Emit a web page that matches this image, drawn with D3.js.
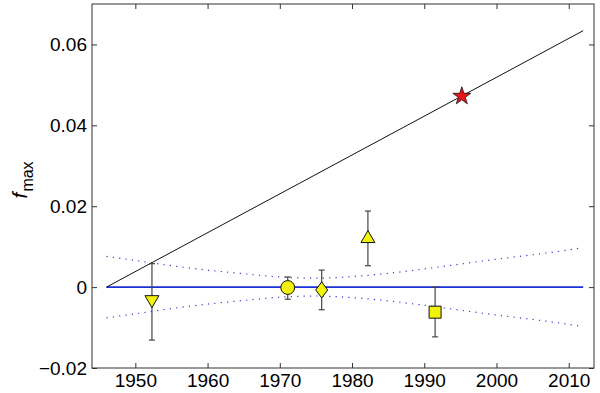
<!DOCTYPE html>
<html>
<head>
<meta charset="utf-8">
<script src="https://cdn.jsdelivr.net/npm/d3@7"></script>
<style>
  body { margin: 0; background: #fff; }
  text { font-family: "Liberation Sans", Arial, sans-serif; }
</style>
</head>
<body>
<div class="chart"></div>
<script>
// trend line and zero line
const trendYears = [1946, 2012]
const trendValues = [0, 0.0634]
const zeroValues = [0, 0]

// dotted confidence band (half width, symmetric about zero)
const bandYears = [1946, 1950, 1955, 1960, 1965, 1970, 1975, 1980, 1985, 1990, 1995, 2000, 2005, 2010, 2012]
const bandHalf = [0.0076, 0.0066, 0.0053, 0.0042, 0.0033, 0.0025, 0.0022, 0.0026, 0.0034, 0.0045, 0.0057, 0.0069, 0.0080, 0.0092, 0.0098]

// observations
const obsYears = [1952.3, 1971.1, 1975.8, 1982.2, 1991.5]
const obsValues = [-0.0036, -0.0001, -0.0007, 0.0125, -0.0062]
const obsLow = [-0.0131, -0.0030, -0.0056, 0.0053, -0.0123]
const obsHigh = [0.0058, 0.0025, 0.0042, 0.0188, 0]
const obsShapes = ["triangleDown", "circle", "diamond", "triangleUp", "square"]

const starYear = 1995.2
const starValue = 0.0472

const xTicks = [1950, 1960, 1970, 1980, 1990, 2000, 2010]
const yTicks = [-0.02, 0, 0.02, 0.04, 0.06]

const width = 600, height = 393
const margin = {left: 92, right: 6, top: 4, bottom: 25}

const x = d3.scaleLinear().domain([1944, 2013.5]).range([margin.left, width - margin.right])
const y = d3.scaleLinear().domain([-0.02, 0.07]).range([height - margin.bottom, margin.top])

const svg = d3.select(".chart").append("svg")
  .attr("width", width)
  .attr("height", height)

const fmtY = d => d === 0 ? "0" : d3.format(".2f")(d).replace("-", "\u2212")

// axes with inward ticks
svg.append("g")
  .attr("transform", `translate(0,${y.range()[0]})`)
  .call(d3.axisBottom(x).tickValues(xTicks).tickSizeInner(-5).tickSizeOuter(0).tickPadding(6).tickFormat(d3.format("d")))
svg.append("g")
  .attr("transform", `translate(0,${y.range()[1]})`)
  .call(d3.axisTop(x).tickValues(xTicks).tickSizeInner(-5).tickSizeOuter(0).tickFormat(""))
svg.append("g")
  .attr("transform", `translate(${x.range()[0]},0)`)
  .call(d3.axisLeft(y).tickValues(yTicks).tickSizeInner(-5).tickSizeOuter(0).tickPadding(5).tickFormat(fmtY))
svg.append("g")
  .attr("transform", `translate(${x.range()[1]},0)`)
  .call(d3.axisRight(y).tickValues(yTicks).tickSizeInner(-5).tickSizeOuter(0).tickFormat(""))

svg.selectAll(".domain").remove()
svg.selectAll(".tick line").attr("stroke", "#333")
svg.selectAll(".tick text").attr("font-size", 19).attr("fill", "#000")

svg.append("rect")
  .attr("x", x.range()[0]).attr("y", y.range()[1])
  .attr("width", x.range()[1] - x.range()[0])
  .attr("height", y.range()[0] - y.range()[1])
  .attr("fill", "none").attr("stroke", "#333").attr("stroke-width", 1)

// y label
const yl = svg.append("text")
  .attr("transform", `translate(27,${y(0.0265)}) rotate(-90)`)
  .attr("text-anchor", "middle")
  .attr("font-size", 21)
yl.append("tspan").attr("font-style", "italic").text("f")
yl.append("tspan").attr("font-size", 16).attr("dy", 6).attr("dx", 1).text("max")

// band
const bandLine = d3.line().curve(d3.curveMonotoneX)
svg.append("path")
  .attr("d", bandLine(bandYears.map((d, i) => [x(d), y(bandHalf[i])])))
  .attr("fill", "none").attr("stroke", "#3a3ad6").attr("stroke-width", 1.2)
  .attr("stroke-dasharray", "1.2,5.2")
svg.append("path")
  .attr("d", bandLine(bandYears.map((d, i) => [x(d), y(-bandHalf[i])])))
  .attr("fill", "none").attr("stroke", "#3a3ad6").attr("stroke-width", 1.2)
  .attr("stroke-dasharray", "1.2,5.2")

// zero line and trend
const line = d3.line()
svg.append("path")
  .attr("d", line(trendYears.map((d, i) => [x(d), y(zeroValues[i])])))
  .attr("stroke", "#1a2fd6").attr("stroke-width", 1.6).attr("fill", "none")
svg.append("path")
  .attr("d", line(trendYears.map((d, i) => [x(d), y(trendValues[i])])))
  .attr("stroke", "#111").attr("stroke-width", 1).attr("fill", "none")

// error bars
const eb = svg.append("g").attr("stroke", "#444").attr("stroke-width", 1.2)
obsYears.forEach((d, i) => {
  const cx = x(d)
  eb.append("line").attr("x1", cx).attr("x2", cx).attr("y1", y(obsLow[i])).attr("y2", y(obsHigh[i]))
  eb.append("line").attr("x1", cx - 3).attr("x2", cx + 3).attr("y1", y(obsLow[i])).attr("y2", y(obsLow[i]))
  eb.append("line").attr("x1", cx - 3).attr("x2", cx + 3).attr("y1", y(obsHigh[i])).attr("y2", y(obsHigh[i]))
})

// markers
const shapePath = {
  triangleDown: "M-7,-6L7,-6L0,6Z",
  triangleUp: "M-7,6L7,6L0,-6Z",
  circle: d3.symbol(d3.symbolCircle, 150)(),
  diamond: "M0,-8L6,0L0,8L-6,0Z",
  square: "M-6,-6L6,-6L6,6L-6,6Z"
}
svg.append("g").selectAll("path")
  .data(obsYears)
  .join("path")
  .attr("transform", (d, i) => `translate(${x(d)},${y(obsValues[i])})`)
  .attr("d", (d, i) => shapePath[obsShapes[i]])
  .attr("fill", "#f2f20a").attr("stroke", "#111").attr("stroke-width", 1)

svg.append("path")
  .attr("transform", `translate(${x(starYear)},${y(starValue)})`)
  .attr("d", d3.symbol(d3.symbolStar, 100)())
  .attr("fill", "#e8141a").attr("stroke", "#111").attr("stroke-width", 0.8)
</script>
</body>
</html>
